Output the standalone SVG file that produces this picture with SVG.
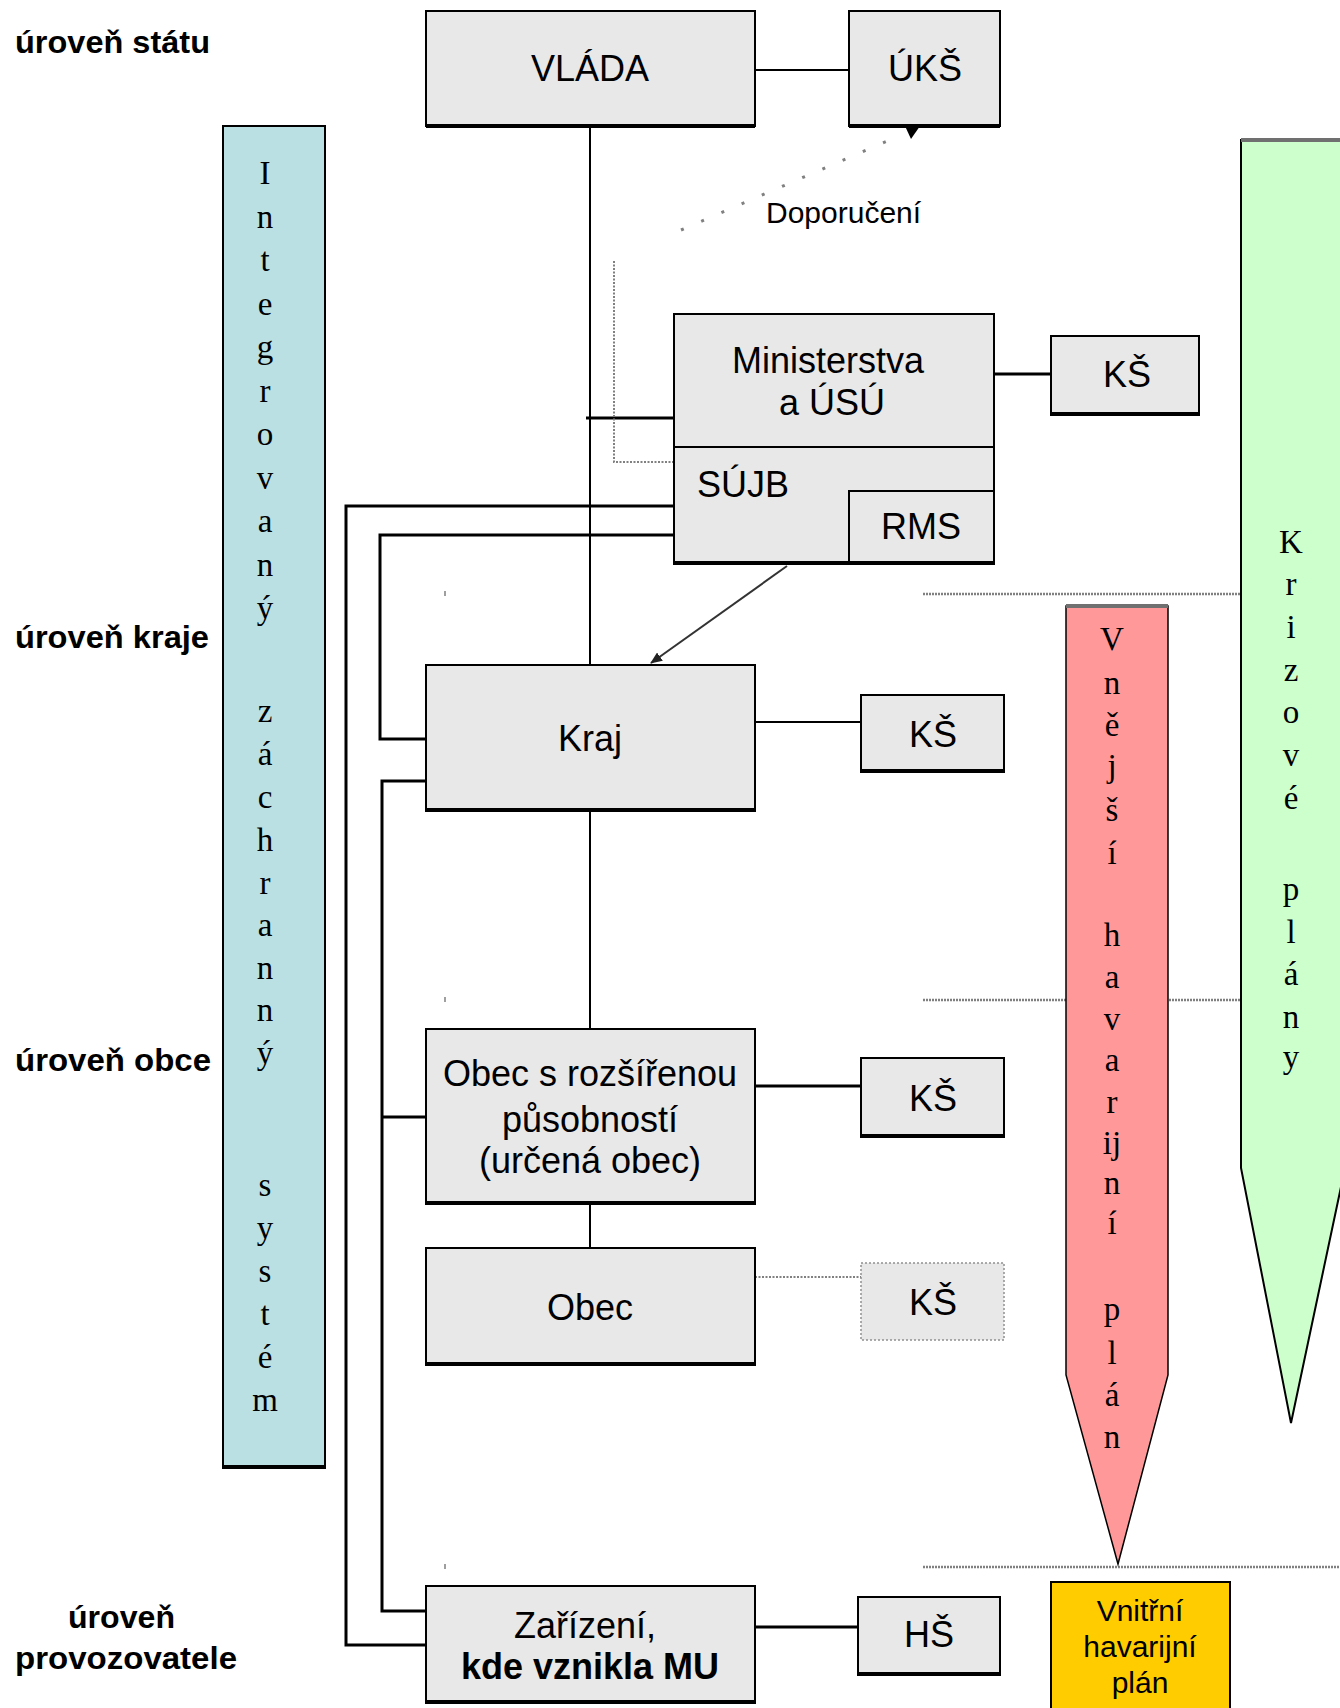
<svg xmlns="http://www.w3.org/2000/svg" width="1340" height="1708" viewBox="0 0 1340 1708">
<style>
.box{fill:#e8e8e8;stroke:#000;stroke-width:2}
.bt{fill:none;stroke:#000;stroke-width:4}
.t{font-family:"Liberation Sans",Arial,sans-serif;font-size:36px;fill:#000;text-anchor:middle}
.lab{font-family:"Liberation Sans",Arial,sans-serif;font-size:31px;font-weight:bold;fill:#000}
.v{font-family:"Liberation Serif","Times New Roman",serif;font-size:33px;fill:#000;text-anchor:middle}
.ln{fill:none;stroke:#000;stroke-width:2}
.lt{fill:none;stroke:#000;stroke-width:3}
.dot{fill:none;stroke:#808080;stroke-width:2;stroke-dasharray:2 1.5}
.lvl{fill:none;stroke:#808080;stroke-width:2.5;stroke-dasharray:2 1}
</style>
<defs>
<marker id="ah" markerWidth="12" markerHeight="10" refX="11" refY="5" orient="auto" markerUnits="userSpaceOnUse">
<path d="M0,0 L12,5 L0,10 Z" fill="#222"/>
</marker>
</defs>
<rect width="1340" height="1708" fill="#fff"/>

<g id="levels">
<path class="lvl" d="M923,594 H1241 M923,1000 H1241 M923,1567 H1340"/>
<path d="M445,591 V596 M445,997 V1002 M445,1564 V1569" stroke="#808080" stroke-width="1.5" fill="none"/>
</g>

<g id="labels">
<text class="lab" x="15" y="53" textLength="195" lengthAdjust="spacingAndGlyphs">úroveň státu</text>
<text class="lab" x="15" y="648" textLength="194" lengthAdjust="spacingAndGlyphs">úroveň kraje</text>
<text class="lab" x="15" y="1071" textLength="196" lengthAdjust="spacingAndGlyphs">úroveň obce</text>
<text class="lab" x="68" y="1628" textLength="107" lengthAdjust="spacingAndGlyphs">úroveň</text>
<text class="lab" x="15" y="1669" textLength="222" lengthAdjust="spacingAndGlyphs">provozovatele</text>
</g>

<g id="izs">
<rect x="223" y="126" width="102" height="1342" fill="#bbe0e3" stroke="#000" stroke-width="2"/>
<path class="bt" d="M223,1467 H325"/>
<text class="v" x="265" y="184">I</text>
<text class="v" x="265" y="228">n</text>
<text class="v" x="265" y="271">t</text>
<text class="v" x="265" y="315">e</text>
<text class="v" x="265" y="358">g</text>
<text class="v" x="265" y="402">r</text>
<text class="v" x="265" y="445">o</text>
<text class="v" x="265" y="489">v</text>
<text class="v" x="265" y="532">a</text>
<text class="v" x="265" y="576">n</text>
<text class="v" x="265" y="619">ý</text>
<text class="v" x="265" y="722">z</text>
<text class="v" x="265" y="765">á</text>
<text class="v" x="265" y="808">c</text>
<text class="v" x="265" y="851">h</text>
<text class="v" x="265" y="894">r</text>
<text class="v" x="265" y="936">a</text>
<text class="v" x="265" y="979">n</text>
<text class="v" x="265" y="1021">n</text>
<text class="v" x="265" y="1064">ý</text>
<text class="v" x="265" y="1196">s</text>
<text class="v" x="265" y="1239">y</text>
<text class="v" x="265" y="1282">s</text>
<text class="v" x="265" y="1325">t</text>
<text class="v" x="265" y="1368">é</text>
<text class="v" x="265" y="1411">m</text>
</g>

<g id="krizove-plany">
<path d="M1241,140 H1345 V1168 L1291,1423 L1241,1168 Z" fill="#ccffcc" stroke="#000" stroke-width="2"/>
<path d="M1241,140 H1345" stroke="#707070" stroke-width="4"/>
<text class="v" x="1291" y="553">K</text>
<text class="v" x="1291" y="595">r</text>
<text class="v" x="1291" y="638">i</text>
<text class="v" x="1291" y="681">z</text>
<text class="v" x="1291" y="723">o</text>
<text class="v" x="1291" y="766">v</text>
<text class="v" x="1291" y="809">é</text>
<text class="v" x="1291" y="900">p</text>
<text class="v" x="1291" y="943">l</text>
<text class="v" x="1291" y="985">á</text>
<text class="v" x="1291" y="1028">n</text>
<text class="v" x="1291" y="1068">y</text>
</g>

<g id="vnejsi-havarijni-plan">
<path d="M1066,606 H1168 V1375 L1118,1564 L1066,1375 Z" fill="#ff9999" stroke="#000" stroke-width="1.5"/>
<path d="M1066,606 H1168" stroke="#707070" stroke-width="4"/>
<text class="v" x="1112" y="650">V</text>
<text class="v" x="1112" y="694">n</text>
<text class="v" x="1112" y="736">ě</text>
<text class="v" x="1112" y="777">j</text>
<text class="v" x="1112" y="821">š</text>
<text class="v" x="1112" y="864">í</text>
<text class="v" x="1112" y="946">h</text>
<text class="v" x="1112" y="988">a</text>
<text class="v" x="1112" y="1030">v</text>
<text class="v" x="1112" y="1071">a</text>
<text class="v" x="1112" y="1113">r</text>
<text class="v" x="1112" y="1154">ij</text>
<text class="v" x="1112" y="1194">n</text>
<text class="v" x="1112" y="1234">í</text>
<text class="v" x="1112" y="1320">p</text>
<text class="v" x="1112" y="1364">l</text>
<text class="v" x="1112" y="1406">á</text>
<text class="v" x="1112" y="1448">n</text>
</g>

<g id="connectors">
<path class="ln" d="M755,70 H849"/>
<path class="ln" d="M590,126 V665"/>
<path class="lt" d="M586,418 H674"/>
<path class="lt" d="M994,374 H1051"/>
<path class="lt" d="M674,506 H346 V1645 H426"/>
<path class="lt" d="M674,535 H380 V739 H426"/>
<path class="lt" d="M426,781 H382 V1611 H426 M382,1117 H426"/>
<path class="ln" d="M755,722 H861"/>
<path class="ln" d="M590,811 V1029"/>
<path class="lt" d="M755,1086 H861"/>
<path class="ln" d="M590,1204 V1248"/>
<path class="dot" d="M755,1277 H861"/>
<path class="lt" d="M752,1627 H858"/>
<path d="M787,566 L651,663" fill="none" stroke="#333" stroke-width="2" marker-end="url(#ah)"/>
<path class="dot" d="M674,462 H614 V260" stroke-width="1.5"/>
<path d="M681,230 L899,136" fill="none" stroke="#808080" stroke-width="3" stroke-dasharray="3 19"/>
<path d="M905,126 L920,126 L911,139 Z" fill="#000"/>
<text x="766" y="223" font-family="Liberation Sans, Arial, sans-serif" font-size="30" fill="#000">Doporučení</text>
</g>

<g id="vlada">
<rect class="box" x="426" y="11" width="329" height="115"/><path class="bt" d="M426,126 H755"/>
<text class="t" x="590" y="81">VLÁDA</text>
</g>
<g id="uks">
<rect class="box" x="849" y="11" width="151" height="115"/><path class="bt" d="M849,126 H1000"/>
<text class="t" x="925" y="81">ÚKŠ</text>
</g>
<g id="ministerstva">
<rect class="box" x="674" y="314" width="320" height="250"/><path class="bt" d="M674,563 H994"/>
<path class="ln" d="M674,447 H994"/>
<text class="t" x="828" y="373">Ministerstva</text>
<text class="t" x="832" y="415">a ÚSÚ</text>
<text class="t" x="697" y="497" style="text-anchor:start">SÚJB</text>
</g>
<g id="rms">
<rect class="box" x="849" y="491" width="145" height="73"/><path class="bt" d="M849,563 H994"/>
<text class="t" x="921" y="539">RMS</text>
</g>
<g id="ks-ministerstva">
<rect class="box" x="1051" y="336" width="148" height="79"/><path class="bt" d="M1051,414 H1199"/>
<text class="t" x="1127" y="387">KŠ</text>
</g>
<g id="kraj">
<rect class="box" x="426" y="665" width="329" height="146"/><path class="bt" d="M426,810 H755"/>
<text class="t" x="590" y="751">Kraj</text>
</g>
<g id="ks-kraj">
<rect class="box" x="861" y="695" width="143" height="77"/><path class="bt" d="M861,771 H1004"/>
<text class="t" x="933" y="747">KŠ</text>
</g>
<g id="obec-rozsirena">
<rect class="box" x="426" y="1029" width="329" height="175"/><path class="bt" d="M426,1203 H755"/>
<text class="t" x="590" y="1086">Obec s rozšířenou</text>
<text class="t" x="590" y="1132">působností</text>
<text class="t" x="590" y="1173">(určená obec)</text>
</g>
<g id="ks-obec-rozsirena">
<rect class="box" x="861" y="1058" width="143" height="79"/><path class="bt" d="M861,1136 H1004"/>
<text class="t" x="933" y="1111">KŠ</text>
</g>
<g id="obec">
<rect class="box" x="426" y="1248" width="329" height="117"/><path class="bt" d="M426,1364 H755"/>
<text class="t" x="590" y="1320">Obec</text>
</g>
<g id="ks-obec">
<rect x="861" y="1263" width="143" height="77" fill="#e8e8e8" stroke="#909090" stroke-width="1.5" stroke-dasharray="2 2"/>
<text class="t" x="933" y="1315">KŠ</text>
</g>
<g id="zarizeni">
<rect class="box" x="426" y="1586" width="329" height="117"/><path class="bt" d="M426,1702 H755"/>
<text class="t" x="585" y="1638">Zařízení,</text>
<text class="t" x="590" y="1679" font-weight="bold">kde vznikla MU</text>
</g>
<g id="hs">
<rect class="box" x="858" y="1597" width="142" height="78"/><path class="bt" d="M858,1674 H1000"/>
<text class="t" x="929" y="1647">HŠ</text>
</g>
<g id="vnitrni-havarijni-plan">
<rect x="1051" y="1582" width="179" height="135" fill="#ffcc00" stroke="#000" stroke-width="2"/>
<text class="t" x="1140" y="1621" style="font-size:30px">Vnitřní</text>
<text class="t" x="1140" y="1657" style="font-size:30px">havarijní</text>
<text class="t" x="1140" y="1693" style="font-size:30px">plán</text>
</g>
</svg>
